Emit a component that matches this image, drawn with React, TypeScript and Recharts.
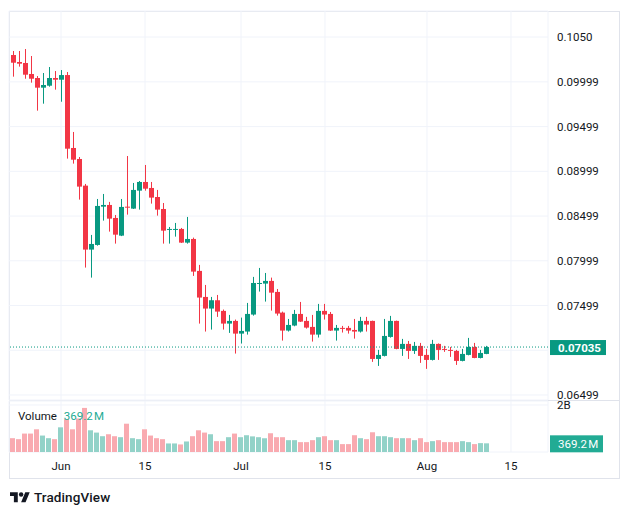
import { ComposedChart, Bar, XAxis, YAxis, CartesianGrid, ReferenceLine, Cell } from 'recharts'

// daily candles, May 24 .. Aug 11
const dates = [
  'May 24', 'May 25', 'May 26', 'May 27', 'May 28', 'May 29', 'May 30', 'May 31',
  'Jun 1', 'Jun 2', 'Jun 3', 'Jun 4', 'Jun 5', 'Jun 6', 'Jun 7', 'Jun 8', 'Jun 9', 'Jun 10',
  'Jun 11', 'Jun 12', 'Jun 13', 'Jun 14', 'Jun 15', 'Jun 16', 'Jun 17', 'Jun 18', 'Jun 19', 'Jun 20',
  'Jun 21', 'Jun 22', 'Jun 23', 'Jun 24', 'Jun 25', 'Jun 26', 'Jun 27', 'Jun 28', 'Jun 29', 'Jun 30',
  'Jul 1', 'Jul 2', 'Jul 3', 'Jul 4', 'Jul 5', 'Jul 6', 'Jul 7', 'Jul 8', 'Jul 9', 'Jul 10',
  'Jul 11', 'Jul 12', 'Jul 13', 'Jul 14', 'Jul 15', 'Jul 16', 'Jul 17', 'Jul 18', 'Jul 19', 'Jul 20',
  'Jul 21', 'Jul 22', 'Jul 23', 'Jul 24', 'Jul 25', 'Jul 26', 'Jul 27', 'Jul 28', 'Jul 29', 'Jul 30',
  'Jul 31', 'Aug 1', 'Aug 2', 'Aug 3', 'Aug 4', 'Aug 5', 'Aug 6', 'Aug 7', 'Aug 8', 'Aug 9',
  'Aug 10', 'Aug 11',
]

const opens = [
  0.10299, 0.10221, 0.1021, 0.10087, 0.10042, 0.09934, 0.09956, 0.10042, 0.10023, 0.10075,
  0.0926, 0.09137, 0.08839, 0.08124, 0.08176, 0.08604, 0.08623, 0.08478, 0.0828, 0.08604,
  0.08582, 0.08783, 0.0888, 0.08813, 0.08712, 0.08578, 0.08344, 0.08344, 0.08355, 0.08202,
  0.08243, 0.07886, 0.07595, 0.07465, 0.07558, 0.07439, 0.07297, 0.07327, 0.07185, 0.07208,
  0.07398, 0.07744, 0.07744, 0.07774, 0.07651, 0.0742, 0.07219, 0.07275, 0.07405, 0.07327,
  0.0726, 0.07174, 0.07439, 0.07405, 0.07219, 0.07249, 0.07249, 0.07226, 0.07208, 0.07327,
  0.07327, 0.06902, 0.06936, 0.07148, 0.07327, 0.07014, 0.0707, 0.06992, 0.07048, 0.06947,
  0.06891, 0.0707, 0.07014, 0.07003, 0.06992, 0.0688, 0.06947, 0.07036, 0.06913, 0.06958,
]
const highs = [
  0.10344, 0.10344, 0.10366, 0.10288, 0.10064, 0.10098, 0.10165, 0.1012, 0.10131, 0.10109,
  0.09439, 0.09159, 0.08858, 0.08288, 0.0869, 0.08746, 0.08657, 0.08511, 0.0869, 0.0917,
  0.08869, 0.08891, 0.0907, 0.0888, 0.08791, 0.08645, 0.08377, 0.08422, 0.08366, 0.08489,
  0.08258, 0.07953, 0.07729, 0.07595, 0.07617, 0.07454, 0.07394, 0.07342, 0.07364, 0.07528,
  0.07819, 0.07919, 0.07863, 0.07811, 0.07684, 0.07431, 0.07349, 0.0745, 0.07539, 0.07372,
  0.07394, 0.07517, 0.07517, 0.07427, 0.07282, 0.07271, 0.07271, 0.07349, 0.07372, 0.07372,
  0.0733, 0.07003, 0.07349, 0.07383, 0.0733, 0.07126, 0.07103, 0.07092, 0.07081, 0.07014,
  0.07115, 0.07075, 0.07048, 0.07036, 0.07003, 0.07014, 0.07137, 0.07081, 0.07003, 0.07048,
]
const lows = [
  0.10057, 0.10169, 0.10034, 0.0999, 0.09677, 0.09755, 0.09945, 0.09912, 0.09777, 0.09141,
  0.09085, 0.08683, 0.07923, 0.07811, 0.08168, 0.08448, 0.08325, 0.08191, 0.08275, 0.08515,
  0.08578, 0.08571, 0.08783, 0.08638, 0.08504, 0.08191, 0.08191, 0.08269, 0.08198, 0.08191,
  0.0783, 0.07297, 0.07208, 0.0723, 0.07372, 0.0723, 0.07193, 0.06962, 0.07074, 0.07174,
  0.07386, 0.07655, 0.07543, 0.07442, 0.07386, 0.07107, 0.07208, 0.07267, 0.07315, 0.07241,
  0.07096, 0.07141, 0.07342, 0.07215, 0.07107, 0.07197, 0.07185, 0.07129, 0.07197, 0.07208,
  0.06869, 0.06824, 0.0693, 0.0714, 0.0701, 0.06936, 0.06902, 0.06958, 0.06858, 0.06791,
  0.06885, 0.06891, 0.06981, 0.06925, 0.06835, 0.06875, 0.06942, 0.0691, 0.06908, 0.06955,
]
const closes = [
  0.10213, 0.10202, 0.10079, 0.10034, 0.09934, 0.09964, 0.10042, 0.10023, 0.10075, 0.09252,
  0.09129, 0.08828, 0.08124, 0.08187, 0.08612, 0.08623, 0.0847, 0.08291, 0.08601, 0.08593,
  0.08791, 0.0888, 0.08805, 0.08705, 0.08571, 0.08336, 0.08355, 0.08355, 0.08202, 0.08243,
  0.07878, 0.07588, 0.07465, 0.07558, 0.07431, 0.07297, 0.07327, 0.07185, 0.07215, 0.07405,
  0.07751, 0.07751, 0.07774, 0.07643, 0.07409, 0.07219, 0.07282, 0.07405, 0.07319, 0.07252,
  0.07174, 0.07439, 0.07398, 0.07219, 0.07249, 0.07241, 0.07219, 0.07208, 0.07327, 0.07286,
  0.06902, 0.06947, 0.07159, 0.07327, 0.07014, 0.0707, 0.06992, 0.07048, 0.06936, 0.06891,
  0.0707, 0.07003, 0.07003, 0.06992, 0.0688, 0.06958, 0.07036, 0.06913, 0.06969, 0.07035,
]
// volume in millions
const volumes = [
  588, 546, 784, 784, 966, 700, 588, 546, 1050, 1400,
  966, 1428, 1876, 924, 826, 672, 756, 672, 630, 1204,
  588, 546, 966, 700, 588, 546, 364, 364, 322, 448,
  672, 924, 826, 756, 462, 462, 630, 784, 630, 714,
  665, 630, 588, 798, 630, 630, 504, 504, 420, 420,
  504, 630, 672, 504, 504, 336, 336, 714, 588, 546,
  840, 672, 672, 630, 588, 588, 588, 504, 588, 420,
  462, 504, 420, 420, 420, 462, 420, 336, 378, 369.2,
]

const priceTicks = [0.06499, 0.06999, 0.07499, 0.07999, 0.08499, 0.08999, 0.09499, 0.09999, 0.105]
const priceTickLabels = ['0.06499', '0.06999', '0.07499', '0.07999', '0.08499', '0.08999', '0.09499', '0.09999', '0.1050']
const timeTicks = [8, 22, 38, 52, 69, 83]
const timeLabels = ['Jun', '15', 'Jul', '15', 'Aug', '15']
const volumeTicks = [2000]
const volumeTickLabels = ['2B']

const UP = '#089981'
const DOWN = '#f23645'
const UP_VOL = '#92d2c8'
const DOWN_VOL = '#f9aab0'
const TAG_VOL = '#22ab94'
const GRID = '#f0f3fa'
const BORDER = '#e0e3eb'
const TEXT = '#131722'
const FONT = 'Roboto, "Liberation Sans", sans-serif'

const X_DOMAIN = [-0.667, 89.167]
const lastClose = closes[closes.length - 1]
const lastVolume = volumes[volumes.length - 1]

const candles = dates.map((date, i) => ({
  i,
  date,
  open: opens[i],
  high: highs[i],
  low: lows[i],
  close: closes[i],
  volume: volumes[i],
}))

function Candle(props: any) {
  const { x, y, width, height, payload } = props
  const { open, close, high, low } = payload
  const color = close >= open ? UP : DOWN
  const k = height / (high - low)
  const top = y + (high - Math.max(open, close)) * k
  const bot = y + (high - Math.min(open, close)) * k
  const cx = Math.round(x + width / 2) + 0.5
  return (
    <g>
      <line x1={cx} x2={cx} y1={y} y2={y + height} stroke={color} strokeWidth={1} />
      <rect x={cx - 2.5} y={top} width={5} height={Math.max(1, bot - top)} fill={color} />
    </g>
  )
}

function PriceTick(props: any) {
  const { x, y, payload } = props
  // the last-price tag covers this one
  if (Math.abs(payload.value - lastClose) < 0.001) return <g />
  const label = priceTickLabels[priceTicks.indexOf(payload.value)]
  return (
    <text x={x} y={y} dy="0.36em" fontSize={11.5} fill={TEXT} fontFamily={FONT}>
      {label}
    </text>
  )
}

function VolumeTick(props: any) {
  const { x, y, payload } = props
  return (
    <text x={x} y={y} dy="0.36em" fontSize={11.5} fill={TEXT} fontFamily={FONT}>
      {volumeTickLabels[volumeTicks.indexOf(payload.value)]}
    </text>
  )
}

function TimeTick(props: any) {
  const { x, y, payload } = props
  return (
    <text x={x} y={y} dy="0.71em" textAnchor="middle" fontSize={11.5} fill={TEXT} fontFamily={FONT}>
      {timeLabels[timeTicks.indexOf(payload.value)]}
    </text>
  )
}

function PriceTag(props: any) {
  const { viewBox } = props
  const left = viewBox.x + viewBox.width + 2
  return (
    <g>
      <rect x={left} y={viewBox.y - 7} width={56} height={15} fill={UP} />
      <text x={left + 8} y={viewBox.y + 0.5} dy="0.36em" fontSize={11.5} fontWeight={700} fill="#fff" fontFamily={FONT}>
        {lastClose.toFixed(5)}
      </text>
    </g>
  )
}

function VolumeTag(props: any) {
  const { viewBox } = props
  const left = viewBox.x + viewBox.width + 2
  return (
    <g>
      <rect x={left} y={viewBox.y - 8} width={53} height={17} fill={TAG_VOL} />
      <text x={left + 8} y={viewBox.y + 0.5} dy="0.36em" fontSize={11.5} fill="#fff" fontFamily={FONT}>
        {lastVolume.toFixed(1) + '\u202FM'}
      </text>
    </g>
  )
}

export default function App() {
  return (
    <div style={{ position: 'absolute', left: 0, top: 0, width: 630, height: 515, background: '#fff', fontFamily: FONT }}>
      <style>{'.recharts-surface { overflow: visible; }'}</style>
      <div style={{ position: 'absolute', left: 9, top: 11, width: 611, height: 468, border: `1px solid ${BORDER}`, boxSizing: 'border-box' }} />
      <div style={{ position: 'absolute', left: 9, top: 400, width: 611, height: 1, background: BORDER }} />

      <div style={{ position: 'absolute', left: 9, top: 11 }}>
        <ComposedChart width={611} height={389} data={candles} margin={{ top: 0, right: 0, bottom: 0, left: 0 }}>
          <CartesianGrid stroke={GRID} />
          <XAxis dataKey="i" type="number" domain={X_DOMAIN} ticks={timeTicks} interval={0} hide allowDataOverflow />
          <YAxis
            orientation="right"
            width={72}
            domain={[0.06443, 0.10791]}
            ticks={priceTicks}
            interval={0}
            axisLine={false}
            tickLine={false}
            tickSize={0}
            tickMargin={9}
            tick={PriceTick}
            allowDataOverflow
          />
          <ReferenceLine y={lastClose} stroke={UP} strokeDasharray="1 2" label={<PriceTag />} />
          <Bar
            dataKey={(d: any) => [d.low, d.high]}
            barSize={5}
            shape={(p: any) => <Candle {...p} />}
            isAnimationActive={false}
          />
        </ComposedChart>
      </div>

      <div style={{ position: 'absolute', left: 9, top: 401 }}>
        <ComposedChart width={611} height={77} data={candles} margin={{ top: 0, right: 0, bottom: 0, left: 0 }}>
          <CartesianGrid stroke={GRID} />
          <XAxis
            dataKey="i"
            type="number"
            domain={X_DOMAIN}
            ticks={timeTicks}
            interval={0}
            height={26}
            axisLine={false}
            tickLine={false}
            tickSize={0}
            tickMargin={10}
            tick={TimeTick}
            allowDataOverflow
          />
          <YAxis
            orientation="right"
            width={72}
            domain={[0, 2170]}
            ticks={volumeTicks}
            interval={0}
            axisLine={false}
            tickLine={false}
            tickSize={0}
            tickMargin={9}
            tick={VolumeTick}
            allowDataOverflow
          />
          <ReferenceLine y={lastVolume} stroke="none" label={<VolumeTag />} />
          <Bar dataKey="volume" barSize={5} isAnimationActive={false}>
            {candles.map((c, idx) => (
              <Cell key={`vol-${idx}`} fill={c.close >= c.open ? UP_VOL : DOWN_VOL} />
            ))}
          </Bar>
        </ComposedChart>
      </div>

      <div style={{ position: 'absolute', left: 18, top: 409, fontSize: 11.5, color: TEXT, lineHeight: '14px', whiteSpace: 'nowrap' }}>
        Volume <span style={{ color: TAG_VOL, marginLeft: 4 }}>{lastVolume.toFixed(1) + '\u202FM'}</span>
      </div>

      <div style={{ position: 'absolute', left: 10, top: 489, display: 'flex', alignItems: 'center', color: TEXT }}>
        <svg width={20} height={11} viewBox="0 4 36 19">
          <path d="M14 22H7V11H0V4h14v18zM28 22h-8l7.5-18h8L28 22z" fill={TEXT} />
          <circle cx={20} cy={8} r={4} fill={TEXT} />
        </svg>
        <span style={{ marginLeft: 4, fontSize: 13.5, fontWeight: 500, letterSpacing: 0.1 }}>TradingView</span>
      </div>
    </div>
  )
}
